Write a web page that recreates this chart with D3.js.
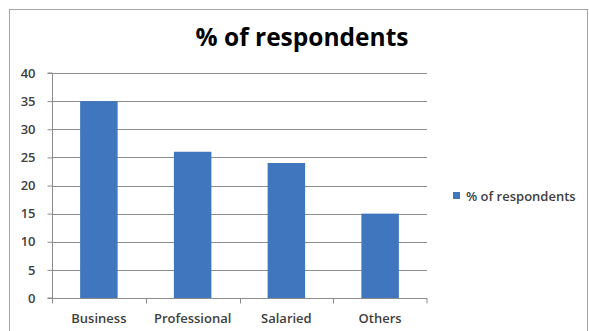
<!DOCTYPE html>
<html>
<head>
  <style>
    body { margin: 0; background: #fff; }
    svg text { font-family: "Open Sans", sans-serif; fill: #404040; }
  </style>
</head>
<body>
  <svg id="container" width="589" height="331">
    <rect id="frame" x="9.5" y="9.5" width="578" height="330" fill="#fff" stroke="#a6a6a6"></rect>
    <g id="grid"></g>
    <g id="body"></g>
    <g id="yAxis"></g>
    <g id="xAxis"></g>
    <g id="legend"></g>
  </svg>
<script src="https://cdn.jsdelivr.net/npm/d3@7"></script>
<script>
    const categories = ["Business", "Professional", "Salaried", "Others"];
    const values = [35, 26, 24, 15];
    const yTicks = [0, 5, 10, 15, 20, 25, 30, 35, 40];
    const seriesName = "% of respondents";

    const svg = d3.select("#container");
    const plotLeft = 52, plotRight = 427, plotTop = 73, plotBottom = 298;

    let y = d3.scaleLinear().domain([0, 40]).range([plotBottom, plotTop]);
    let x = d3.scaleBand()
      .domain(categories)
      .range([plotLeft, plotRight])
      .paddingInner(0.6)
      .paddingOuter(0.3);
    let xEdges = d3.scaleBand().domain(categories).range([plotLeft, plotRight]);

    // horizontal gridlines
    svg.select("#grid").selectAll("line")
      .data(yTicks.filter(d => d > 0))
      .enter().append("line")
      .attr("x1", plotLeft).attr("x2", plotRight)
      .attr("y1", d => Math.round(y(d)) + 0.5)
      .attr("y2", d => Math.round(y(d)) + 0.5)
      .attr("stroke", "#8c8c8c");

    svg.select("#body").selectAll("rect")
      .data(values)
      .enter().append("rect")
      .attr("x", (d, i) => x(categories[i]))
      .attr("width", x.bandwidth())
      .attr("y", d => y(d))
      .attr("height", d => y(0) - y(d))
      .attr("fill", "#3f76bd");

    // y axis
    let yAxis = d3.axisLeft(y).tickValues(yTicks).tickSize(5).tickPadding(12);
    d3.select("#yAxis")
      .attr("transform", "translate(" + (plotLeft + 0.5) + ",0)")
      .call(yAxis)
      .call(g => {
        g.select(".domain").attr("stroke", "#8c8c8c").attr("d", "M-5," + plotTop + "H0V" + plotBottom + "H-5");
        g.selectAll(".tick line").attr("stroke", "#8c8c8c");
        g.selectAll(".tick text").style("font-size", "13px").attr("fill", "#404040").style("font-weight", "600");
      });

    // x axis with ticks at band edges
    let xAxis = d3.axisBottom(xEdges).tickSize(0).tickPadding(15);
    d3.select("#xAxis")
      .attr("transform", "translate(0," + (plotBottom + 0.5) + ")")
      .call(xAxis)
      .call(g => {
        g.select(".domain").attr("stroke", "#8c8c8c").attr("d", "M" + plotLeft + ",0H" + plotRight + "V5");
        g.selectAll(".tick text").style("font-size", "13px").attr("fill", "#404040").style("font-weight", "600");
        g.selectAll(".edge").data(categories).enter().append("line")
          .attr("class", "edge")
          .attr("x1", d => Math.round(xEdges(d)) + 0.5)
          .attr("x2", d => Math.round(xEdges(d)) + 0.5)
          .attr("y1", 0).attr("y2", 5)
          .attr("stroke", "#8c8c8c");
      });

    // title
    svg.append("text")
      .attr("x", 302).attr("y", 46)
      .attr("text-anchor", "middle")
      .style("font-size", "24.5px")
      .style("font-weight", "bold")
      .style("fill", "#000")
      .text(seriesName);

    // legend
    let legend = d3.select("#legend").attr("transform", "translate(453,192)");
    legend.append("rect").attr("width", 7).attr("height", 7).attr("y", 0).attr("fill", "#3f76bd");
    legend.append("text").attr("x", 13).attr("y", 8.5)
      .style("font-size", "13px").style("font-weight", "600").text(seriesName);
</script>
</body>
</html>
